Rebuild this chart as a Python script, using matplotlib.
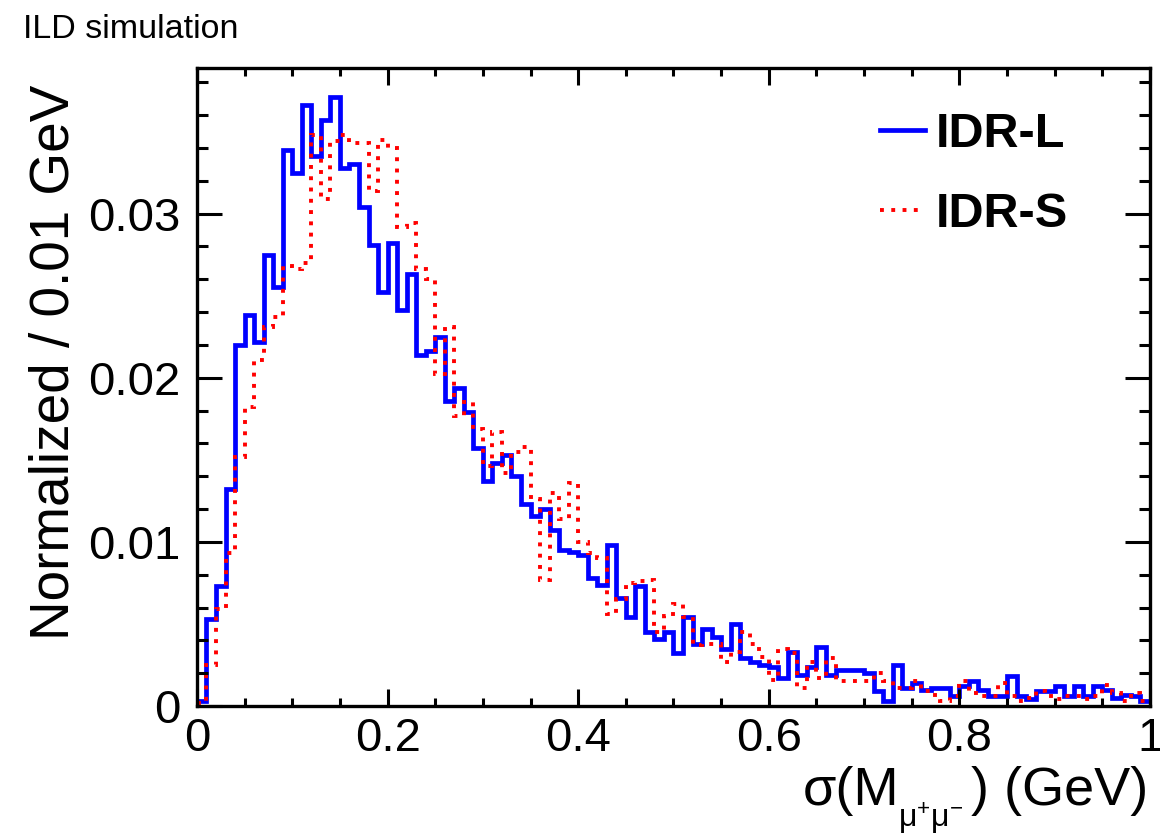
import numpy as np
import matplotlib
matplotlib.use("Agg")
import matplotlib.pyplot as plt
from matplotlib.ticker import MultipleLocator, FixedLocator, FixedFormatter

plt.rcParams['font.family'] = ['Liberation Sans', 'DejaVu Sans']
plt.rcParams['mathtext.fontset'] = 'custom'
plt.rcParams['mathtext.rm'] = 'Liberation Sans'
plt.rcParams['mathtext.default'] = 'regular'

# 100 bins of 0.01 GeV between 0 and 1
bin_edges = np.linspace(0.0, 1.0, 101)

idr_l = [
    0.0003, 0.0053, 0.0073, 0.0132, 0.0220, 0.0238, 0.0222, 0.0275, 0.0255, 0.0339,
    0.0325, 0.0366, 0.0335, 0.0357, 0.0371, 0.0328, 0.0330, 0.0304, 0.0281, 0.0252,
    0.0282, 0.0241, 0.0263, 0.0214, 0.0216, 0.0225, 0.0186, 0.0194, 0.0179, 0.0157,
    0.0137, 0.0148, 0.0153, 0.0140, 0.0123, 0.0116, 0.0120, 0.0107, 0.0095, 0.0094,
    0.0092, 0.0078, 0.0074, 0.0098, 0.0066, 0.0054, 0.0073, 0.0045, 0.0041, 0.0045,
    0.0032, 0.0054, 0.0038, 0.0047, 0.0042, 0.0035, 0.0050, 0.0029, 0.0027, 0.0025,
    0.0024, 0.0017, 0.0033, 0.0019, 0.0024, 0.0036, 0.0019, 0.0022, 0.0022, 0.0022,
    0.0020, 0.0009, 0.0003, 0.0025, 0.0011, 0.0014, 0.0010, 0.0011, 0.0011, 0.0006,
    0.0012, 0.0015, 0.0010, 0.0006, 0.0006, 0.0018, 0.0006, 0.0004, 0.0009, 0.0009,
    0.0012, 0.0006, 0.0012, 0.0006, 0.0012, 0.0010, 0.0005, 0.0007, 0.0006, 0.0003,
]

idr_s = [
    0.0002, 0.0025, 0.0059, 0.0093, 0.0152, 0.0182, 0.0211, 0.0231, 0.0237, 0.0268,
    0.0266, 0.0270, 0.0348, 0.0309, 0.0344, 0.0348, 0.0343, 0.0343, 0.0314, 0.0345,
    0.0340, 0.0292, 0.0294, 0.0266, 0.0260, 0.0202, 0.0231, 0.0177, 0.0185, 0.0169,
    0.0146, 0.0167, 0.0142, 0.0155, 0.0158, 0.0126, 0.0077, 0.0130, 0.0114, 0.0136,
    0.0100, 0.0093, 0.0090, 0.0056, 0.0065, 0.0075, 0.0076, 0.0077, 0.0045, 0.0055,
    0.0062, 0.0054, 0.0037, 0.0038, 0.0038, 0.0027, 0.0033, 0.0045, 0.0038, 0.0030,
    0.0016, 0.0035, 0.0032, 0.0011, 0.0027, 0.0017, 0.0029, 0.0015, 0.0015, 0.0015,
    0.0015, 0.0020, 0.0015, 0.0011, 0.0011, 0.0015, 0.0009, 0.0007, 0.0003, 0.0006,
    0.0015, 0.0008, 0.0006, 0.0006, 0.0014, 0.0006, 0.0003, 0.0005, 0.0009, 0.0006,
    0.0004, 0.0006, 0.0006, 0.0004, 0.0006, 0.0013, 0.0008, 0.0003, 0.0008, 0.0003,
]

x_ticks = [0, 0.2, 0.4, 0.6, 0.8, 1.0]
x_tick_labels = ['0', '0.2', '0.4', '0.6', '0.8', '1']
y_ticks = [0, 0.01, 0.02, 0.03]
y_tick_labels = ['0', '0.01', '0.02', '0.03']

fig = plt.figure(figsize=(11.6, 8.39), dpi=100)
ax = fig.add_axes([0.1698, 0.1585, 0.8216, 0.7610])

ax.stairs(idr_l, bin_edges, baseline=None, color='#0000ff', linewidth=3.4,
          label='IDR-L')
ax.stairs(idr_s, bin_edges, baseline=None, color='#ff0000', linewidth=2.8,
          linestyle=(0, (1.0, 1.9)), label='IDR-S')

ax.set_xlim(0, 1)
ax.set_ylim(0, 0.0389)

for spine in ax.spines.values():
    spine.set_linewidth(2.4)
    spine.set_zorder(5)

ax.xaxis.set_major_locator(FixedLocator(x_ticks))
ax.xaxis.set_major_formatter(FixedFormatter(x_tick_labels))
ax.xaxis.set_minor_locator(MultipleLocator(0.05))
ax.yaxis.set_major_locator(FixedLocator(y_ticks))
ax.yaxis.set_major_formatter(FixedFormatter(y_tick_labels))
ax.yaxis.set_minor_locator(MultipleLocator(0.002))

ax.tick_params(which='both', direction='in', top=True, right=True, width=2.2,
               labelsize=34)
ax.tick_params(axis='x', which='major', length=12, pad=8)
ax.tick_params(axis='x', which='minor', length=6)
ax.tick_params(axis='y', which='major', length=18, pad=12)
ax.tick_params(axis='y', which='minor', length=8)

fig.text(69 / 1160, 1 - 85 / 839, 'Normalized / 0.01 GeV', fontsize=39.5,
         rotation=90, rotation_mode='anchor', ha='right', va='baseline')

# x title built right-to-left from pieces so the subscript sits low as in ROOT
t_unit = fig.text(1148 / 1160, 1 - 805 / 839, ') (GeV)', fontsize=39,
                  ha='right', va='baseline')
t_sub = ax.annotate(r'$\mu^{+}\mu^{-}$', xy=(0, 1 - 828 / 839),
                    xycoords=(t_unit, 'figure fraction'), xytext=(-5, 0),
                    textcoords='offset points', fontsize=23,
                    ha='right', va='baseline', annotation_clip=False)
ax.annotate('σ(M', xy=(0, 0), xycoords=(t_sub, t_unit), xytext=(1, 0),
            textcoords='offset points', fontsize=39, ha='right', va='bottom',
            annotation_clip=False)

fig.text(23 / 1160, 1 - 38 / 839, 'ILD simulation', fontsize=24.5,
         ha='left', va='baseline')

ax.legend(loc='center left', bbox_to_anchor=(880 / 1160, 1 - 174.5 / 839),
          bbox_transform=fig.transFigure, frameon=False,
          prop={'weight': 'bold', 'size': 35}, handlelength=0.92,
          handletextpad=0.22, labelspacing=0.74, borderpad=0, borderaxespad=0)

fig.savefig('out.png', dpi=100)
